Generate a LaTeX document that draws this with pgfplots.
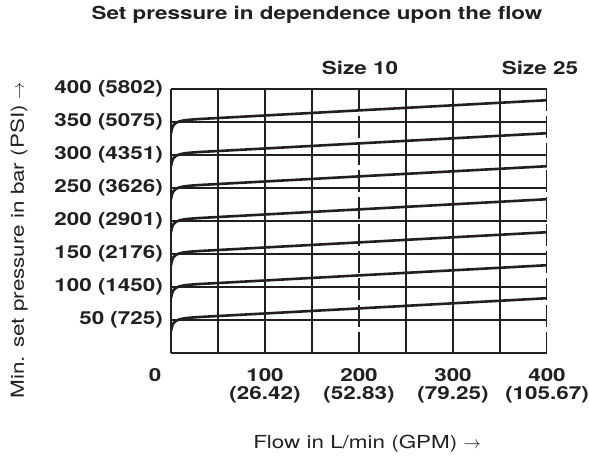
\documentclass[border=0pt]{standalone}
\usepackage{fontspec}
\setmainfont{TeX Gyre Heros}[FakeStretch=1.25]
\usepackage{pgfplots}
\pgfplotsset{compat=1.18}
\definecolor{ink}{HTML}{231F20}
\begin{document}
\begin{tikzpicture}
\path (-171bp,-106bp) rectangle (418bp,353bp);
\begin{axis}[
  at={(0,0)}, anchor=south west,
  scale only axis, width=376bp, height=264bp,
  xmin=0, xmax=400, ymin=0, ymax=400,
  axis x line*=bottom, axis y line*=left,
  axis line style={line width=2.6bp, ink, -},
  xtick={100,200,300,400},
  xticklabels={{100\\(26.42)},{200\\(52.83)},{300\\(79.25)},{400\\(105.67)}},
  ytick={50,100,150,200,250,300,350,400},
  yticklabels={50 (725),100 (1450),150 (2176),200 (2901),250 (3626),300 (4351),350 (5075),400 (5802)},
  major tick length=0pt,
  xmajorgrids=false, ymajorgrids=true,
  extra x ticks={50,100,150,250,300,350},
  extra x tick labels={},
  extra x tick style={xmajorgrids=true, major tick length=0pt},
  grid style={line width=1.1bp, ink},
  xticklabel style={font=\fontsize{18}{18.5}\selectfont\bfseries, align=center, anchor=north, inner sep=0pt, yshift=-15bp, text=ink},
  yticklabel style={font=\fontsize{18}{21}\selectfont\bfseries, anchor=east, inner sep=0pt, xshift=-8bp, text=ink},
  curve/.style={line width=2.6bp, ink, no marks, line join=round, line cap=round},
  dashline/.style={line width=2bp, ink, no marks, line cap=butt, dash pattern=on 22bp off 5bp},
]
\addplot[curve] coordinates {(0,33) (1,40) (2.5,45) (5,48.5) (9,51) (14,52.5) (20,53.5) (30,54.5) (400,83)};
\addplot[curve] coordinates {(0,83) (1,90) (2.5,95) (5,98.5) (9,101) (14,102.5) (20,103.5) (30,104.5) (400,133)};
\addplot[curve] coordinates {(0,133) (1,140) (2.5,145) (5,148.5) (9,151) (14,152.5) (20,153.5) (30,154.5) (400,183)};
\addplot[curve] coordinates {(0,183) (1,190) (2.5,195) (5,198.5) (9,201) (14,202.5) (20,203.5) (30,204.5) (400,233)};
\addplot[curve] coordinates {(0,233) (1,240) (2.5,245) (5,248.5) (9,251) (14,252.5) (20,253.5) (30,254.5) (400,283)};
\addplot[curve] coordinates {(0,283) (1,290) (2.5,295) (5,298.5) (9,301) (14,302.5) (20,303.5) (30,304.5) (400,333)};
\addplot[curve] coordinates {(0,333) (1,340) (2.5,345) (5,348.5) (9,351) (14,352.5) (20,353.5) (30,354.5) (400,383)};
\addplot[dashline] coordinates {(200,400) (200,0)};
\addplot[dashline] coordinates {(400,400) (400,0)};
\end{axis}
\node[anchor=north, inner sep=0pt, text=ink, font=\fontsize{18}{18.5}\selectfont\bfseries] at (-16bp,-15bp) {0};
\node[anchor=base, inner sep=0pt, text=ink, font=\fontsize{18}{21}\selectfont\bfseries] at (146bp,333bp) {Set pressure in dependence upon the flow};
\node[anchor=base, inner sep=0pt, text=ink, font=\fontsize{18}{21}\selectfont\bfseries] at (189bp,278bp) {Size 10};
\node[anchor=base, inner sep=0pt, text=ink, font=\fontsize{18}{21}\selectfont\bfseries] at (369bp,278bp) {Size 25};
\node[anchor=base, inner sep=0pt, text=ink, font=\fontsize{18}{21}\selectfont] at (196bp,-95bp) {Flow in L/min (GPM) $\rightarrow$};
\node[anchor=base, inner sep=0pt, rotate=90, text=ink, font=\fontsize{18}{21}\selectfont] at (-147bp,113bp) {Min. set pressure in bar (PSI) $\rightarrow$};
\end{tikzpicture}
\end{document}
